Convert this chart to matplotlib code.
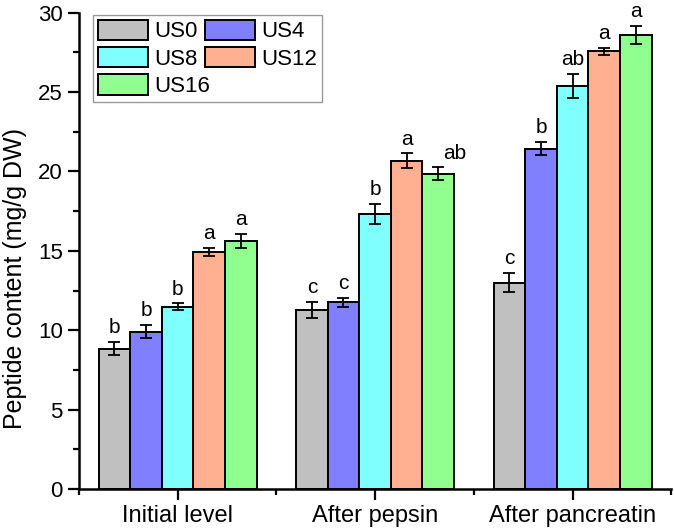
import matplotlib
matplotlib.use("Agg")
import matplotlib.pyplot as plt
from matplotlib.ticker import MultipleLocator, FixedLocator
import numpy as np

plt.rcParams['font.family'] = ['Liberation Sans', 'DejaVu Sans']

# data
stages = ["Initial level", "After pepsin", "After pancreatin"]
treatments = ["US0", "US4", "US8", "US12", "US16"]
colors = ["#c0c0c0", "#8080ff", "#80ffff", "#ffb090", "#90ff90"]

us0 = [8.84, 11.26, 13.0]
us4 = [9.91, 11.75, 21.44]
us8 = [11.47, 17.31, 25.39]
us12 = [14.95, 20.69, 27.56]
us16 = [15.63, 19.87, 28.6]

err0 = [0.40, 0.50, 0.60]
err4 = [0.43, 0.30, 0.43]
err8 = [0.22, 0.63, 0.75]
err12 = [0.25, 0.45, 0.21]
err16 = [0.45, 0.39, 0.58]

let0 = ["b", "c", "c"]
let4 = ["b", "c", "b"]
let8 = ["b", "b", "ab"]
let12 = ["a", "a", "a"]
let16 = ["a", "ab", "a"]

values = [us0, us4, us8, us12, us16]
errors = [err0, err4, err8, err12, err16]
letters = [let0, let4, let8, let12, let16]

fig = plt.figure(figsize=(6.74, 5.32), dpi=100)
ax = fig.add_axes([0.117, 0.081, 0.879, 0.895])

x = np.arange(1, len(stages) + 1)
w = 0.16
handles = []
for i, (vals, errs, labs) in enumerate(zip(values, errors, letters)):
    pos = x + (i - 2) * w
    b = ax.bar(pos, vals, width=w, color=colors[i], edgecolor="black",
               linewidth=1.4, label=treatments[i], zorder=2)
    handles.append(b)
    ax.errorbar(pos, vals, yerr=errs, fmt="none", ecolor="black",
                elinewidth=1.3, capsize=4.5, capthick=1.3, zorder=3)
    for j, (p, v, e, s) in enumerate(zip(pos, vals, errs, labs)):
        dx = 0.085 if (i == 4 and j == 1) else 0
        ax.text(p + dx, v + e + 0.3, s, ha="center", va="bottom", fontsize=15)

ax.set_xlim(0.5, 3.5)
ax.set_ylim(0, 30)
ax.set_xticks(x)
ax.set_xticklabels(stages, fontsize=17)
ax.xaxis.set_minor_locator(FixedLocator([0.5, 1.5, 2.5, 3.5]))
ax.yaxis.set_major_locator(MultipleLocator(5))
ax.yaxis.set_minor_locator(MultipleLocator(2.5))
ax.tick_params(axis="y", labelsize=16)
ax.tick_params(which="major", length=8, width=1.6, direction="out")
ax.tick_params(which="minor", length=4, width=1.6, direction="out")
ax.set_ylabel("Peptide content (mg/g DW)", fontsize=18)
ax.yaxis.set_label_coords(-0.088, 0.441)

for side in ["top", "right"]:
    ax.spines[side].set_visible(False)
for side in ["left", "bottom"]:
    ax.spines[side].set_linewidth(1.8)

order = [0, 2, 4, 1, 3]
leg = ax.legend([handles[k] for k in order], [treatments[k] for k in order],
                ncol=2, loc="upper left", bbox_to_anchor=(0.0236, 0.996),
                borderaxespad=0, fontsize=16, handlelength=2.25,
                handleheight=1.04, handletextpad=0.3, columnspacing=-0.25,
                labelspacing=0.2, borderpad=0.22, fancybox=False,
                framealpha=1)
leg.get_frame().set_edgecolor("#999999")
leg.get_frame().set_linewidth(1.0)

fig.savefig("out.png", dpi=100)
